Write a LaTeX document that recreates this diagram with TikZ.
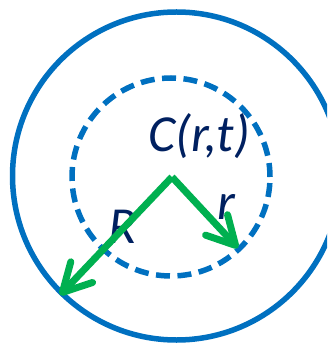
\documentclass[tikz,border=0pt]{standalone}
\usepackage{fontspec}
\setmainfont{Carlito}
\usetikzlibrary{arrows.meta}
\definecolor{ringblue}{HTML}{0070C0}
\definecolor{arrowgreen}{HTML}{00B050}
\definecolor{labelnavy}{HTML}{002060}

\begin{document}
\begin{tikzpicture}[
        x=1pt, y=-1pt,
        ring/.style={
            draw=ringblue,
            line width=5.5pt
        },
        dashring/.style={
            ring,
            line width=5.5pt,
            dash pattern=on 14pt off 7.5pt
        },
        tag/.style={
            text=labelnavy,
            font=\fontsize{52}{56}\selectfont\itshape,
            anchor=base,
            inner sep=0pt
        },
        arrow/.style={
            draw=arrowgreen,
            line width=7pt,
            -{Straight Barb[length=28pt, width=30pt, round]}
        }
    ]

        \clip (0,0) rectangle (327,347);

        \coordinate (outerC) at (176.5,176);
        \coordinate (innerC) at (171,177);
        \coordinate (apex) at (172,177);
        \coordinate (Rend) at (60,295);
        \coordinate (rend) at (238,248);

        \draw[ring] (outerC) circle[radius=164pt];
        \draw[dashring] (innerC) circle[radius=99pt];

        \node[tag] (ct) at (199,152) {C(r,t)};
        \node[tag] (bigR) at (123,243) {R};
        \node[tag] (smallr) at (226,219) {r};

        \draw[arrow] (apex) -- (Rend);
        \draw[arrow] (apex) -- (rend);

    \end{tikzpicture}
\end{document}
